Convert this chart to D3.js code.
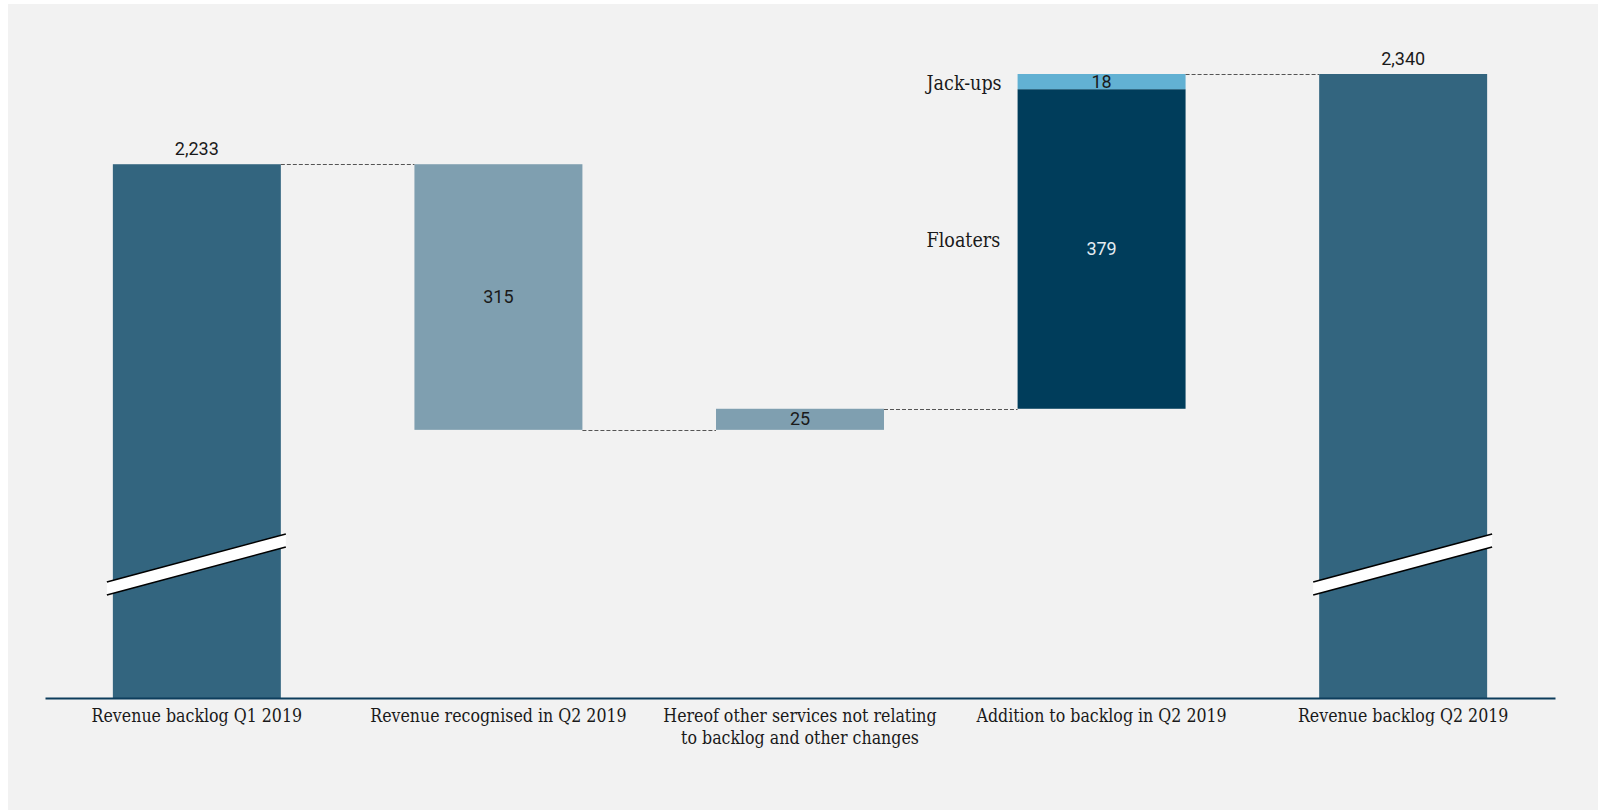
<!DOCTYPE html>
<html>
<head>
<meta charset="utf-8">
<script src="https://cdn.jsdelivr.net/npm/d3@7"></script>
<style>
  html, body { margin: 0; padding: 0; background: #ffffff; }
  svg { display: block; }
</style>
</head>
<body>
<svg id="chart" width="1598" height="810"></svg>
<script>
// ---- data ----
const categories = [
  "Revenue backlog Q1 2019",
  "Revenue recognised in Q2 2019",
  "Hereof other services not relating|to backlog and other changes",
  "Addition to backlog in Q2 2019",
  "Revenue backlog Q2 2019"
];
const startValue = 2233;
const endValue = 2340;
const recognised = -315;
const otherChanges = 25;
const additionFloaters = 379;
const additionJackups = 18;
const stackLabels = ["Floaters", "Jack-ups"];
const valueLabels = ["2,233", "315", "25", "379", "18", "2,340"];

// ---- layout ----
const svg = d3.select("#chart");
const W = 1598, H = 810;
svg.append("rect").attr("x", 8).attr("y", 4).attr("width", W - 8).attr("height", H - 4).attr("fill", "#f2f2f2");

const margin = { left: 45, right: 43 };
const axisY = 698;
const x = d3.scaleBand().domain(categories).range([margin.left, W - margin.right]).paddingInner(0.443).paddingOuter(0.225);
const y = d3.scaleLinear().domain([1600, 2340]).range([axisY, 74]).clamp(true);

const c1 = "#33657f", c2 = "#7f9fb0", cFloat = "#003d5b", cJack = "#62b1d3";

// waterfall levels
const l0 = startValue;
const l1 = l0 + recognised;
const l2 = l1 + otherChanges;
const l3 = l2 + additionFloaters;
const l4 = l3 + additionJackups;

const segs = [
  { cat: 0, from: 0, to: l0, color: c1 },
  { cat: 1, from: l1, to: l0, color: c2 },
  { cat: 2, from: l1, to: l2, color: c2 },
  { cat: 3, from: l2, to: l3, color: cFloat },
  { cat: 3, from: l3, to: l4, color: cJack },
  { cat: 4, from: 0, to: endValue, color: c1 }
];

const g = svg.append("g");
g.selectAll("rect.bar").data(segs).enter().append("rect")
  .attr("class", "bar")
  .attr("x", d => x(categories[d.cat]))
  .attr("width", x.bandwidth())
  .attr("y", d => y(Math.max(d.from, d.to)))
  .attr("height", d => y(Math.min(d.from, d.to)) - y(Math.max(d.from, d.to)))
  .attr("fill", d => d.color);

// connectors
const conns = [
  { a: 0, b: 1, v: l0 },
  { a: 1, b: 2, v: l1 },
  { a: 2, b: 3, v: l2 },
  { a: 3, b: 4, v: endValue }
];
g.selectAll("line.conn").data(conns).enter().append("line")
  .attr("x1", d => x(categories[d.a]) + x.bandwidth())
  .attr("x2", d => x(categories[d.b]))
  .attr("y1", d => Math.round(y(d.v)) + 0.5)
  .attr("y2", d => Math.round(y(d.v)) + 0.5)
  .attr("stroke", "#555").attr("stroke-width", 1).attr("stroke-dasharray", "4,2");

// break marks on the first and last bars
[0, 4].forEach(i => {
  const x0 = x(categories[i]) - 6, x1 = x(categories[i]) + x.bandwidth() + 5;
  const yL = 588.5, yR = 540.5, half = 6.5;
  g.append("path")
    .attr("d", `M${x0},${yL - half}L${x1},${yR - half}L${x1},${yR + half}L${x0},${yL + half}Z`)
    .attr("fill", "#ffffff");
  g.append("line").attr("x1", x0).attr("y1", yL - half).attr("x2", x1).attr("y2", yR - half)
    .attr("stroke", "#000").attr("stroke-width", 1.6);
  g.append("line").attr("x1", x0).attr("y1", yL + half).attr("x2", x1).attr("y2", yR + half)
    .attr("stroke", "#000").attr("stroke-width", 1.6);
});

// axis
const axis = d3.axisBottom(x).tickSize(0).tickFormat("");
const ax = svg.append("g").attr("transform", `translate(0,${axisY})`).call(axis);
ax.select(".domain").attr("stroke", "#0d3d5c").attr("stroke-width", 2);

const catFont = "'DejaVu Serif Condensed', 'DejaVu Serif', serif";
categories.forEach(c => {
  const lines = c.split("|");
  const t = svg.append("text")
    .attr("x", x(c) + x.bandwidth() / 2)
    .attr("y", 722)
    .attr("text-anchor", "middle")
    .attr("font-family", catFont)
    .attr("font-size", 17.6)
    .attr("fill", "#1a1a1a");
  lines.forEach((ln, i) => {
    t.append("tspan").attr("x", x(c) + x.bandwidth() / 2).attr("dy", i === 0 ? 0 : 22.3).text(ln);
  });
});

// value labels
const numFont = "Roboto, 'Noto Sans', sans-serif";
const cx = i => x(categories[i]) + x.bandwidth() / 2;
const vl = [
  { x: cx(0), y: y(l0) - 9, t: valueLabels[0], fill: "#1a1a1a" },
  { x: cx(1), y: (y(l0) + y(l1)) / 2 + 6, t: valueLabels[1], fill: "#1a1a1a" },
  { x: cx(2), y: (y(l1) + y(l2)) / 2 + 6, t: valueLabels[2], fill: "#1a1a1a" },
  { x: cx(3), y: (y(l2) + y(l3)) / 2 + 6, t: valueLabels[3], fill: "#e4ecf1" },
  { x: cx(3), y: (y(l3) + y(l4)) / 2 + 6, t: valueLabels[4], fill: "#1a1a1a" },
  { x: cx(4), y: y(endValue) - 9, t: valueLabels[5], fill: "#1a1a1a" }
];
svg.selectAll("text.val").data(vl).enter().append("text")
  .attr("class", "val")
  .attr("x", d => d.x).attr("y", d => d.y)
  .attr("text-anchor", "middle")
  .attr("font-family", numFont).attr("font-size", 18)
  .attr("fill", d => d.fill)
  .text(d => d.t);

// stack labels
const sx = x(categories[3]) - 91;
svg.append("text").attr("x", sx).attr("y", (y(l2) + y(l3)) / 2 - 2)
  .attr("font-family", catFont).attr("font-size", 19.5).attr("fill", "#1a1a1a").text(stackLabels[0]);
svg.append("text").attr("x", sx).attr("y", (y(l3) + y(l4)) / 2 + 8)
  .attr("font-family", catFont).attr("font-size", 19.5).attr("fill", "#1a1a1a").text(stackLabels[1]);
</script>
</body>
</html>
